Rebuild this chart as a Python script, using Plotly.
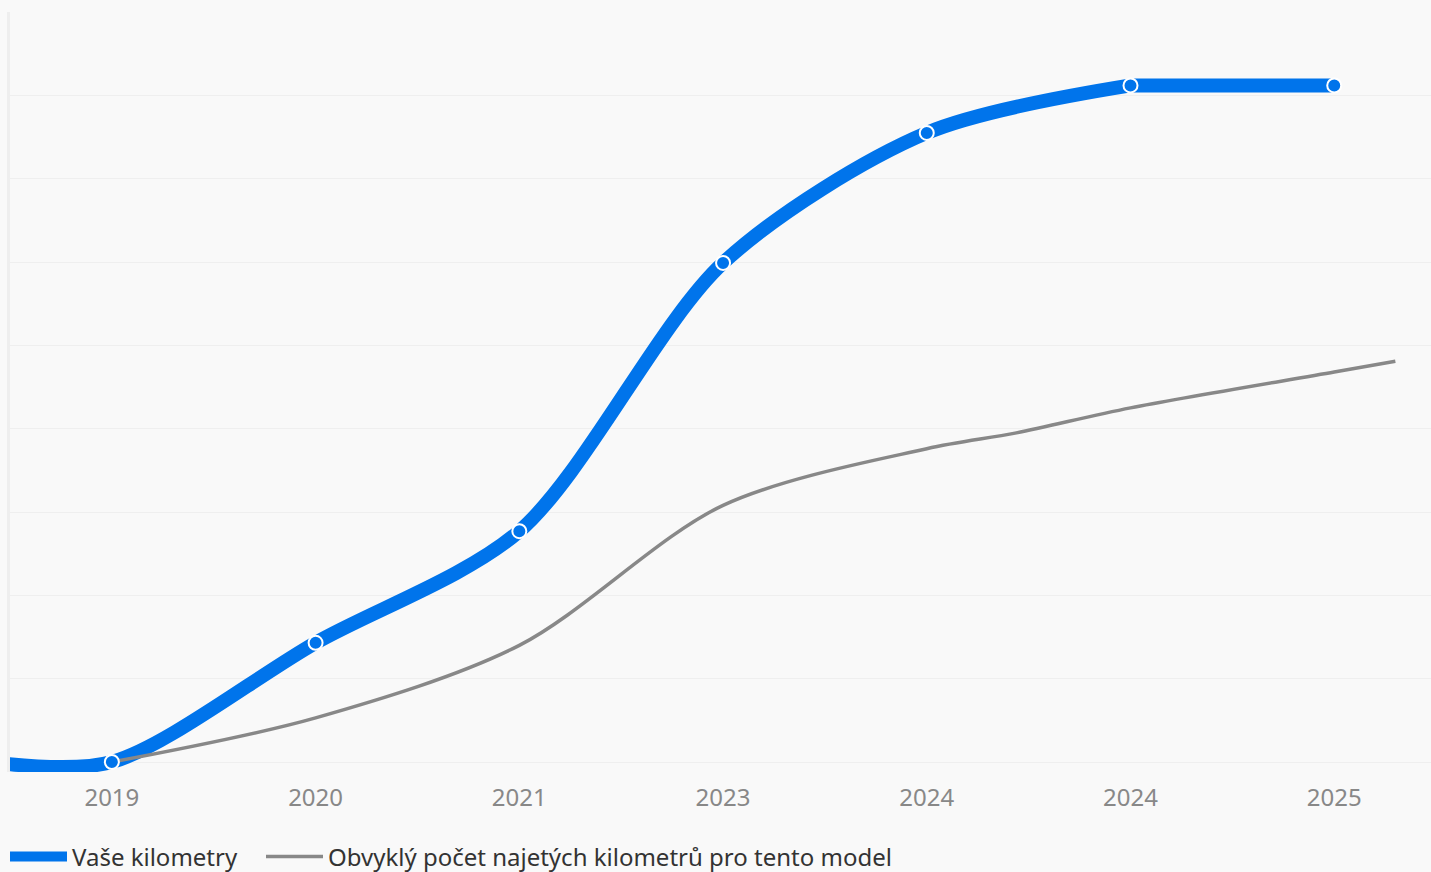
import plotly.graph_objects as go

# Category labels on the x axis (note: two 2024 entries in the source)
tick_labels = ["2019", "2020", "2021", "2023", "2024", "2024", "2025"]
tick_pos = [0, 1, 2, 3, 4, 5, 6]

# "Vaše kilometry" (units = gridline steps; absolute scale not shown)
blue_x = [-0.6, 0, 1, 2, 3, 4, 5, 6]
blue_y = [0.0, 0.0, 1.43, 2.77, 5.99, 7.55, 8.12, 8.12]
marker_x = [0, 1, 2, 3, 4, 5, 6]
marker_y = [0.0, 1.43, 2.77, 5.99, 7.55, 8.12, 8.12]

# "Obvyklý počet najetých kilometrů pro tento model"
gray_x = [0, 1, 2, 3, 4, 4.44, 5, 6, 6.3]
gray_y = [0.0, 0.53, 1.40, 3.08, 3.76, 3.95, 4.25, 4.68, 4.81]

BLUE = "#0074EB"
GRAY = "#888888"
BG = "#F9F9F9"

W, H = 1431, 872
M_L, M_R, M_T, M_B = 10, 0, 12, 100
plot_w = W - M_L - M_R
plot_h = H - M_T - M_B
legend_center_px = 857
legend_y = -(legend_center_px - (H - M_B)) / plot_h

# the flat tail (last two equal values) is drawn straight so the spline
# does not overshoot above the plateau
split = len(blue_x) - 2

fig = go.Figure()
fig.add_trace(go.Scatter(
    x=blue_x[:split + 1], y=blue_y[:split + 1], mode="lines",
    name="Vaše kilometry", legendgroup="blue", legend="legend",
    line=dict(color=BLUE, width=14, shape="spline", smoothing=0.85),
    hoverinfo="skip",
))
fig.add_trace(go.Scatter(
    x=gray_x, y=gray_y, mode="lines", legend="legend2",
    name="Obvyklý počet najetých kilometrů pro tento model",
    line=dict(color=GRAY, width=3.5, shape="spline", smoothing=0.9),
    hoverinfo="skip",
))
fig.add_trace(go.Scatter(
    x=blue_x[split:], y=blue_y[split:], mode="lines",
    legendgroup="blue", showlegend=False,
    line=dict(color=BLUE, width=14),
    hoverinfo="skip",
))
fig.add_trace(go.Scatter(
    x=marker_x, y=marker_y, mode="markers", showlegend=False,
    marker=dict(color=BLUE, size=14, line=dict(color="white", width=2)),
    hoverinfo="skip",
))

legend_common = dict(
    orientation="h", xref="paper", yref="paper",
    y=legend_y, xanchor="left", yanchor="middle",
    font=dict(size=24, color="#333333"),
    bgcolor="rgba(0,0,0,0)", itemwidth=57,
)

fig.update_layout(
    width=W, height=H,
    paper_bgcolor=BG, plot_bgcolor=BG,
    margin=dict(l=M_L, r=M_R, t=M_T, b=M_B, autoexpand=False),
    font=dict(family="Noto Sans", size=24, color="#333333"),
    showlegend=True,
    legend=dict(x=-5 / plot_w, **legend_common),
    legend2=dict(x=(261 - M_L) / plot_w, **legend_common),
    hovermode=False,
)
fig.update_xaxes(
    range=[-0.5, 6.475], tickvals=tick_pos, ticktext=tick_labels,
    showgrid=False, zeroline=False, showline=False,
    tickfont=dict(size=24, color="#888888"), ticks="",
    ticklabelstandoff=9,
)
fig.update_yaxes(
    range=[-0.12, 9.001], tickvals=list(range(10)), showticklabels=False,
    showgrid=True, gridcolor="#EFEFEF", gridwidth=1,
    zeroline=False, showline=True, linecolor="#EEEEEE", linewidth=3,
    ticks="",
)

fig.write_html(
    "out.html",
    config={"displayModeBar": False},
    post_script="document.body.style.margin='0';"
                "document.body.style.background='#F9F9F9';",
)
